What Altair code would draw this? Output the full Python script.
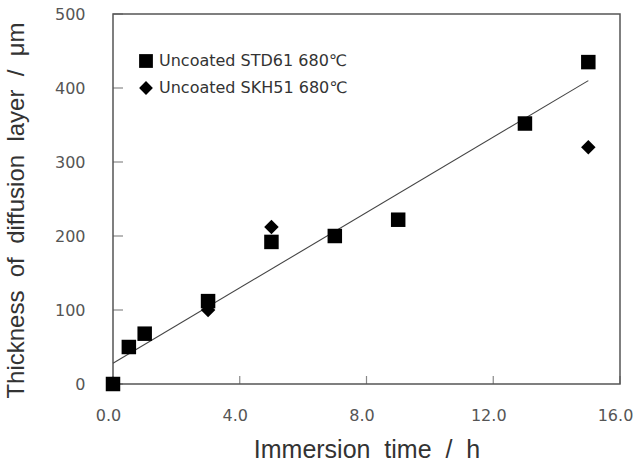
import altair as alt
import pandas as pd

# data
std61_time = [0.0, 0.5, 1.0, 3.0, 5.0, 7.0, 9.0, 13.0, 15.0]
std61_thick = [0, 50, 68, 112, 192, 200, 222, 352, 435]
skh51_time = [3.0, 5.0, 15.0]
skh51_thick = [100, 212, 320]
fit_time = [0.0, 15.0]
fit_thick = [28, 410]
series_names = ["Uncoated STD61 680℃", "Uncoated SKH51 680℃"]
x_ticks = [0, 4, 8, 12, 16]
y_ticks = [0, 100, 200, 300, 400, 500]

SP = "\u00a0 "
x_title = SP.join(["Immersion", "time", "/", "h"])
y_title = SP.join(["Thickness", "of", "diffusion", "layer", "/", "μm"])

pts = pd.DataFrame(
    {"time": std61_time + skh51_time,
     "thick": std61_thick + skh51_thick,
     "series": [series_names[0]] * len(std61_time) + [series_names[1]] * len(skh51_time)}
)
fit = pd.DataFrame({"time": fit_time, "thick": fit_thick})
xt = pd.DataFrame({"v": x_ticks})
yt = pd.DataFrame({"v": y_ticks})

xscale = alt.Scale(domain=[0, 16], nice=False, zero=False)
yscale = alt.Scale(domain=[0, 500], nice=False, zero=False)

x_axis = alt.Axis(values=x_ticks, format=".1f", title=x_title,
                  labelPadding=23, labelOffset=-5, labelFlush=False,
                  titlePadding=14, titleFontSize=25)
y_axis = alt.Axis(values=y_ticks, title=y_title,
                  labelPadding=28, labelFlush=False, titlePadding=26, titleFontSize=24,
                  titleY=196)

line = alt.Chart(fit).mark_line(color="#444", strokeWidth=1.1).encode(
    x=alt.X("time:Q", scale=xscale, axis=x_axis),
    y=alt.Y("thick:Q", scale=yscale, axis=y_axis),
)

points = alt.Chart(pts).mark_point(filled=True, size=210, opacity=1, color="black", strokeWidth=0).encode(
    x=alt.X("time:Q", scale=xscale, axis=x_axis),
    y=alt.Y("thick:Q", scale=yscale, axis=y_axis),
    shape=alt.Shape(
        "series:N",
        scale=alt.Scale(domain=series_names, range=["square", "diamond"]),
        legend=alt.Legend(
            orient="none", legendX=25, legendY=39, title=None,
            labelFont="DejaVu Sans", labelFontSize=16, labelColor="#333",
            symbolSize=190, symbolFillColor="black", symbolStrokeWidth=0,
            rowPadding=11, labelOffset=5, labelLimit=400,
        ),
    ),
)

xtick_layer = alt.Chart(xt).mark_tick(orient="vertical", size=8, thickness=1.2, yOffset=-4, color="#555").encode(
    x=alt.X("v:Q", scale=xscale, axis=x_axis),
    y=alt.YDatum(0, scale=yscale, axis=y_axis),
)
ytick_layer = alt.Chart(yt).mark_tick(orient="horizontal", size=10, thickness=1.2, xOffset=5, color="#555").encode(
    y=alt.Y("v:Q", scale=yscale, axis=y_axis),
    x=alt.XDatum(0, scale=xscale, axis=x_axis),
)

chart = alt.layer(line, xtick_layer, ytick_layer, points).properties(
    width=507, height=370,
    autosize=alt.AutoSizeParams(type="none"),
    padding={"left": 113, "top": 14, "right": 14, "bottom": 78},
    background="white",
).configure_view(stroke="#555", strokeWidth=1.5).configure_axis(
    domain=False, ticks=False, grid=False,
    labelFont="DejaVu Sans", labelFontSize=16, labelColor="#555",
    titleFont="Liberation Sans", titleColor="#333", titleFontWeight="normal",
)

chart.save("out.html", embed_options={"renderer": "svg", "actions": False})
